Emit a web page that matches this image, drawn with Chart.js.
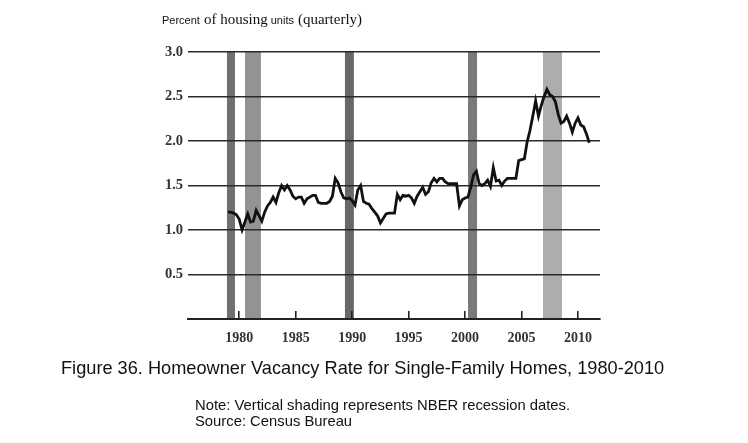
<!DOCTYPE html>
<html>
<head>
    <title>Homeowner Vacancy Rate for Single-Family Homes</title>
    <script src="https://cdn.jsdelivr.net/npm/chart.js"></script>
    <style>
        body { margin: 0; background: #fff; }
        #wrap { position: relative; width: 748px; height: 443px; overflow: hidden; }
        #vacancyChart { position: absolute; left: 0; top: 0; }
        .txt { position: absolute; white-space: nowrap; color: #111; }
        .sans { font-family: "Liberation Sans", Arial, sans-serif; }
        .serif { font-family: "Liberation Serif", "Times New Roman", serif; }
    </style>
</head>
<body>
<div id="wrap">
    <canvas id="vacancyChart" width="748" height="443"></canvas>
    <!-- axis heading, mixed fonts like the scanned original -->
    <div class="txt" style="left:162px; top:10px;">
        <span class="sans" style="font-size:11px;">Percent</span>
        <span class="serif" style="font-size:15px;">of housing</span><span class="sans" style="font-size:11px;"> units</span>
        <span class="serif" style="font-size:15px;">(quarterly)</span>
    </div>
    <div class="txt sans" style="left:61px; top:358px; font-size:18.2px;">Figure 36. Homeowner Vacancy Rate for Single-Family Homes, 1980-2010</div>
    <div class="txt sans" style="left:195px; top:397px; font-size:14.8px; line-height:16px;">Note: Vertical shading represents NBER recession dates.<br>Source: Census Bureau</div>
</div>
<script>
// quarterly series, first value is 1980 Q1
const firstYear = 1980;
const vacancyRate = [
    1.20, 1.20, 1.19, 1.17, 1.12, 1.00, 1.09, 1.18, 1.09, 1.10,
    1.22, 1.16, 1.10, 1.20, 1.27, 1.31, 1.37, 1.31, 1.42, 1.50,
    1.45, 1.50, 1.45, 1.38, 1.35, 1.37, 1.37, 1.30, 1.35, 1.37,
    1.39, 1.39, 1.31, 1.30, 1.30, 1.30, 1.32, 1.38, 1.58, 1.53,
    1.43, 1.36, 1.35, 1.36, 1.33, 1.28, 1.45, 1.50, 1.32, 1.30,
    1.29, 1.24, 1.20, 1.16, 1.08, 1.13, 1.18, 1.19, 1.19, 1.19,
    1.40, 1.34, 1.39, 1.38, 1.39, 1.36, 1.30, 1.38, 1.43, 1.48,
    1.40, 1.43, 1.53, 1.58, 1.54, 1.58, 1.58, 1.54, 1.52, 1.52,
    1.52, 1.52, 1.27, 1.34, 1.36, 1.37, 1.48, 1.62, 1.66, 1.52,
    1.50, 1.52, 1.56, 1.49, 1.70, 1.55, 1.56, 1.50, 1.55, 1.58,
    1.58, 1.58, 1.58, 1.78, 1.79, 1.80, 1.99, 2.12, 2.28, 2.45,
    2.28, 2.40, 2.50, 2.58, 2.52, 2.50, 2.44, 2.30, 2.20, 2.22,
    2.28, 2.20, 2.10, 2.20, 2.26, 2.18, 2.16, 2.08, 1.98
];

// recession bands as drawn (decimal years)
const recessionStart = [1979.91, 1981.51, 1990.36, 2001.26, 2007.90];
const recessionEnd   = [1980.62, 1982.92, 1991.15, 2002.06, 2009.58];
const recessionShade = ['#707070', '#939393', '#686868', '#7a7a7a', '#adadad'];

// tick labels; the original puts each year's tick at the end of that year
const tickLabels = ['1980', '1985', '1990', '1995', '2000', '2005', '2010'];
const yTicks = [0, 0.5, 1.0, 1.5, 2.0, 2.5, 3.0];

const points = vacancyRate.map((v, i) => ({ x: firstYear + i / 4, y: v }));

// shade recessions under the grid lines
const recessionBands = {
    id: 'recessionBands',
    beforeDraw(chart) {
        const { ctx, chartArea, scales } = chart;
        ctx.save();
        for (let i = 0; i < recessionStart.length; i++) {
            const x1 = scales.x.getPixelForValue(recessionStart[i]);
            const x2 = scales.x.getPixelForValue(recessionEnd[i]);
            ctx.fillStyle = recessionShade[i];
            ctx.fillRect(x1, chartArea.top, x2 - x1, chartArea.bottom - chartArea.top);
        }
        ctx.restore();
    }
};

const ctx = document.getElementById('vacancyChart').getContext('2d');
const vacancyChart = new Chart(ctx, {
    type: 'line',
    data: {
        datasets: [{
            label: 'Homeowner vacancy rate',
            data: points,
            borderColor: '#111',
            borderWidth: 2.8,
            pointRadius: 0,
            tension: 0,
            fill: false
        }]
    },
    options: {
        responsive: false,
        animation: false,
        layout: { padding: { left: 140, right: 148, top: 52, bottom: 94 } },
        plugins: {
            legend: { display: false },
            tooltip: { enabled: false }
        },
        scales: {
            x: {
                type: 'linear',
                min: 1976.46,
                max: 2012.95,
                afterBuildTicks(scale) {
                    scale.ticks = tickLabels.map(t => ({ value: Number(t) + 1 }));
                },
                afterFit(scale) { scale.height = 30; },
                grid: {
                    drawOnChartArea: false,
                    tickLength: -8,
                    color: '#222',
                    lineWidth: 1.6
                },
                border: { display: true, color: '#222', width: 2 },
                ticks: {
                    padding: 19,
                    color: '#333',
                    font: { family: '"Liberation Serif", serif', size: 14, weight: 'bold' },
                    maxRotation: 0,
                    callback: (v, i) => tickLabels[i]
                }
            },
            y: {
                min: 0,
                max: 3,
                afterBuildTicks(scale) {
                    scale.ticks = yTicks.map(v => ({ value: v }));
                },
                afterFit(scale) { scale.width = 48; },
                grid: {
                    drawTicks: false,
                    color: c => (c.tick && c.tick.value === 0) ? 'rgba(0,0,0,0)' : '#2a2a2a',
                    lineWidth: 1.5
                },
                border: { display: false },
                ticks: {
                    padding: 5,
                    color: '#333',
                    font: { family: '"Liberation Serif", serif', size: 14.5, weight: 'bold' },
                    callback: v => v === 0 ? '' : v.toFixed(1)
                }
            }
        }
    },
    plugins: [recessionBands]
});
</script>
</body>
</html>
